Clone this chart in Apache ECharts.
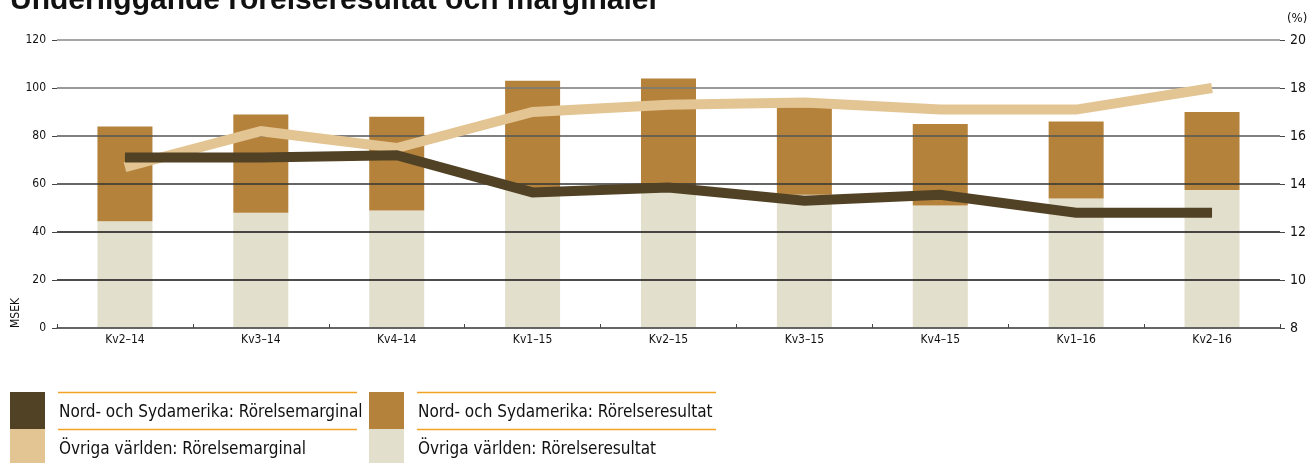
<!DOCTYPE html>
<html>
<head>
<meta charset="utf-8">
<script src="https://cdn.jsdelivr.net/npm/echarts@6/dist/echarts.min.js"></script>
<style>
html,body{margin:0;padding:0;background:#fff;}
#c{width:1309px;height:463px;}
</style>
</head>
<body>
<div id="c"></div>
<script>
const categories = ['Kv2–14','Kv3–14','Kv4–14','Kv1–15','Kv2–15','Kv3–15','Kv4–15','Kv1–16','Kv2–16'];
const ovrigaResultat = [44.5, 48, 49, 58, 58.5, 55.5, 51, 54, 57.5];
const nordResultat = [39.5, 41, 39, 45, 45.5, 36.5, 34, 32, 32.5];
const nordMarginal = [15.1, 15.1, 15.2, 13.65, 13.85, 13.3, 13.55, 12.8, 12.8];
const ovrigaMarginal = [14.7, 16.2, 15.5, 17.0, 17.3, 17.4, 17.1, 17.1, 18.0];
const leftTicks = {min: 0, max: 120, interval: 20};
const rightTicks = {min: 8, max: 20, interval: 2};

const names = {
  nm: 'Nord- och Sydamerika: Rörelsemarginal',
  om: 'Övriga världen: Rörelsemarginal',
  nr: 'Nord- och Sydamerika: Rörelseresultat',
  or: 'Övriga världen: Rörelseresultat'
};
const colors = {nm: '#514225', om: '#e3c593', nr: '#b5823c', or: '#e2dfcc'};
const font = "'Liberation Sans Narrow','DejaVu Sans Condensed',sans-serif";

const chart = echarts.init(document.getElementById('c'), null, {renderer: 'canvas'});

function legendItem(x, y, key) {
  return [
    {type: 'rect', shape: {x: x, y: y, width: 35, height: 37}, style: {fill: colors[key]}, z: 1},
    {type: 'line', shape: {x1: x + 48, y1: y + 0.5, x2: x + 347, y2: y + 0.5}, style: {stroke: '#f2a324', lineWidth: 1.5}, z: 2},
    {type: 'text', x: x + 49, y: y + 21, style: {text: names[key], font: '17px ' + font, fill: '#111', textVerticalAlign: 'middle', textAlign: 'left'}, z: 2}
  ];
}

const gridLineColors = ['#333', '#111', '#111', '#333', '#555', '#777', '#888'];

chart.setOption({
  animation: false,
  backgroundColor: '#fff',
  grid: {left: 57, right: 28, top: 40, bottom: 135},
  xAxis: {
    type: 'category',
    data: categories,
    boundaryGap: true,
    axisLine: {lineStyle: {color: '#666', width: 1.5}},
    axisTick: {show: true, inside: true, length: 4, lineStyle: {color: '#444'}},
    axisLabel: {color: '#111', fontSize: 12, fontFamily: font, margin: 6},
    z: 3
  },
  yAxis: [
    {
      type: 'value', min: leftTicks.min, max: leftTicks.max, interval: leftTicks.interval,
      axisLine: {show: false},
      axisTick: {show: true, length: 5, lineStyle: {color: '#444'}},
      axisLabel: {color: '#111', fontSize: 12, fontFamily: font, margin: 11},
      splitLine: {show: true, lineStyle: {color: gridLineColors, width: 1.5}},
      z: 3
    },
    {
      type: 'value', min: rightTicks.min, max: rightTicks.max, interval: rightTicks.interval,
      axisLine: {show: false},
      axisTick: {show: true, length: 5, lineStyle: {color: '#444'}},
      axisLabel: {color: '#111', fontSize: 14, fontFamily: font, margin: 10},
      splitLine: {show: false},
      z: 3
    }
  ],
  series: [
    {name: names.or, type: 'bar', stack: 'r', data: ovrigaResultat, barWidth: 55, itemStyle: {color: colors.or}, z: 1},
    {name: names.nr, type: 'bar', stack: 'r', data: nordResultat, barWidth: 55, itemStyle: {color: colors.nr}, z: 1},
    {name: names.om, type: 'line', yAxisIndex: 1, data: ovrigaMarginal, showSymbol: false, symbol: 'none',
      lineStyle: {color: colors.om, width: 10, cap: 'butt', join: 'miter'}, z: 5},
    {name: names.nm, type: 'line', yAxisIndex: 1, data: nordMarginal, showSymbol: false, symbol: 'none',
      lineStyle: {color: colors.nm, width: 10, cap: 'butt', join: 'miter'}, z: 6}
  ],
  graphic: [
    {type: 'text', x: 10, y: 16, style: {text: 'Underliggande rörelseresultat och marginaler', font: "bold 30px 'Liberation Sans','DejaVu Sans',sans-serif", fill: '#111', textVerticalAlign: 'bottom'}},
    {type: 'text', x: 16, y: 328, rotation: Math.PI / 2, style: {text: 'MSEK', font: '12px ' + font, fill: '#111', textAlign: 'left', textVerticalAlign: 'middle'}},
    {type: 'text', x: 1287, y: 19, style: {text: '(%)', font: '13px ' + font, fill: '#111', textAlign: 'left', textVerticalAlign: 'middle'}}
  ].concat(legendItem(10, 392, 'nm'), legendItem(10, 429, 'om'), legendItem(369, 392, 'nr'), legendItem(369, 429, 'or'))
});
</script>
</body>
</html>
